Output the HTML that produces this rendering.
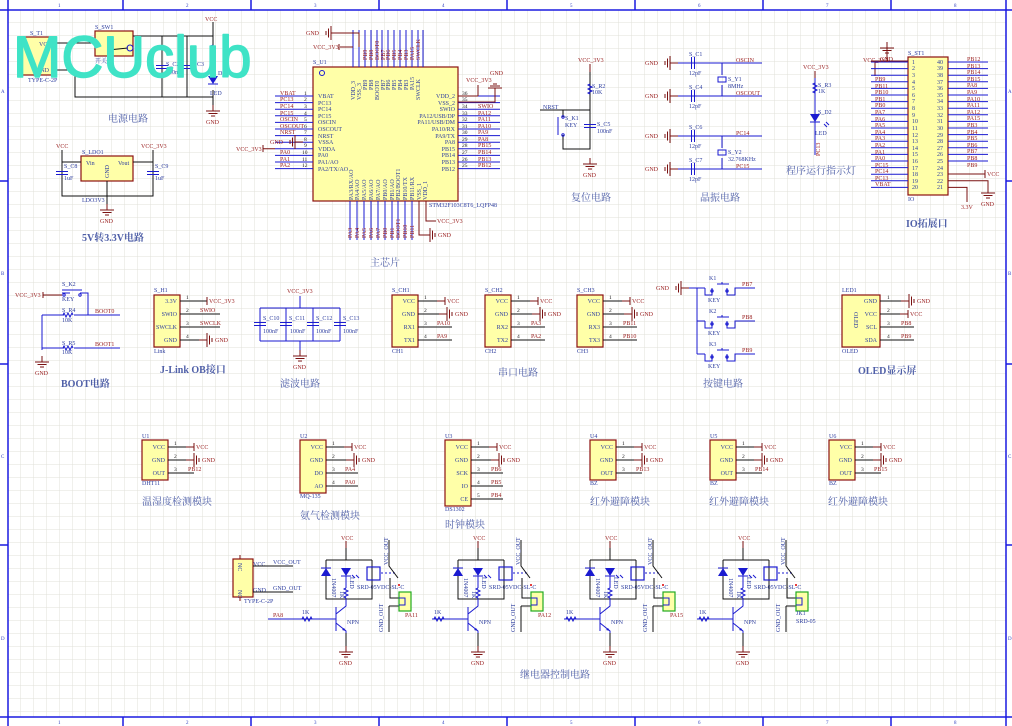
<!DOCTYPE html>
<html><head><meta charset="utf-8"><style>
html,body{margin:0;padding:0;background:#fff;}
svg{display:block;}
text{font-family:"Liberation Serif","Noto Serif CJK SC",serif;}
.w{stroke:#1a1ad0;stroke-width:1;fill:none}
.k{stroke:#111;stroke-width:1;fill:none}
.p{stroke:#7a1010;stroke-width:1;fill:none}
.bx{fill:#ffffa8;stroke:#8b1010;stroke-width:1.2}
.r{fill:#9a2020;font-size:6px}
.bl{fill:#3040a0;font-size:6px}
.t{fill:#5060a8;font-size:10px;font-family:"Liberation Serif","Noto Serif CJK SC",serif}
.pn{fill:#222;font-size:5.5px}
.fr{stroke:#1a1ae0;stroke-width:1.5;fill:none}
.wm{font-family:"Liberation Sans",sans-serif;font-size:58px;fill:#3fe3c6;stroke:#3fe3c6;stroke-width:1.5;stroke-linejoin:round}
</style></head><body>
<svg width="1012" height="726" viewBox="0 0 1012 726" xmlns="http://www.w3.org/2000/svg">
<defs>
<pattern id="g" x="8" y="10" width="13" height="13" patternUnits="userSpaceOnUse">
<path d="M13 0V13M0 13H13" stroke="#e0e0da" stroke-width="1" fill="none"/>
</pattern>
<g id="gnd"><path class="p" d="M0 -6V0M-7 0H7M-4.5 2.5H4.5M-2 5H2"/><text class="r" x="-7" y="13">GND</text></g>
<g id="gndr"><path class="p" d="M-8 0H0M0 -7V7M2.5 -4.5V4.5M5 -2V2"/><text class="r" x="8" y="2">GND</text></g>
<g id="gndl"><path class="p" d="M8 0H0M0 -7V7M-2.5 -4.5V4.5M-5 -2V2"/><text class="r" x="-25" y="2">GND</text></g>
<g id="vccr"><path class="p" d="M-8 0H0M0 -4V4"/><text class="r" x="2" y="2">VCC</text></g>
<g id="cap"><path class="w" d="M-6 -1.5H6M-6 1.5H6"/></g>
<g id="capv"><path class="w" d="M-1.5 -6V6M1.5 -6V6"/></g>
<g id="res"><path class="w" d="M-5 0l1 -2l2 4l2 -4l2 4l2 -4l1 2"/></g>
<g id="resv"><path class="w" d="M0 -5l-2 1l4 2l-4 2l4 2l-4 2l2 1"/></g>
<g id="dio"><path d="M-5 -4H5L0 4Z" fill="#1a1ad0"/><path class="w" d="M-5 4H5"/></g>
<g id="relay">
 <text class="r" x="341" y="540">VCC</text>
 <path class="p" d="M346 541V548"/>
 <path class="k" d="M346 548V560M326 560H372M326 560V599H372V560"/>
 <use href="#dio" transform="translate(326,572) rotate(180)"/>
 <use href="#dio" x="346" y="572"/>
 <path class="w" d="M352 575l3 3M356 575l3 3"/>
 <text class="bl" transform="translate(332,578) rotate(90)" font-size="5">1N4007</text>
 <text class="bl" transform="translate(350,577) rotate(90)" font-size="5">LED</text>
 <use href="#resv" x="346" y="593"/>
 <text class="bl" transform="translate(340,591) rotate(90)" font-size="5">1K</text>
 <path class="w" d="M346 576V588M346 598V606L336 614"/>
 <rect x="367" y="567" width="13" height="13" fill="none" stroke="#1a1ad0" stroke-width="1.2"/>
 <path class="w" d="M381 573H395" stroke-dasharray="2,2"/>
 <path class="k" d="M389 540V566L398 578"/>
 <circle cx="399" cy="585" r="1" fill="#d00"/>
 <text class="bl" transform="translate(388,565) rotate(-90)" font-size="5.5">VCC_OUT</text>
 <text class="bl" x="357" y="589" font-size="5.5">SRD-05VDC-SL-C</text>
 <path class="k" d="M390 578V598H399M389 606V632M389 606H399"/>
 <text class="bl" transform="translate(383,632) rotate(-90)" font-size="5.5">GND_OUT</text>
 <rect x="399" y="592" width="12" height="19" fill="#ffffa8" stroke="#22aa22" stroke-width="1.2"/>
 <path class="w" d="M399 598H405V605H399"/>
 <path class="w" d="M336 607V631" stroke-width="2.2"/>
 <path class="w" d="M336 623L346 631V645"/>
 <path d="M346 631l-4 -1l2 -2z" fill="#1a1ad0"/>
 <text class="bl" x="347" y="624">NPN</text>
 <path class="w" d="M300 619H336"/>
 <use href="#res" x="307" y="619"/>
 <text class="bl" x="302" y="614" font-size="5.5">1K</text>
 <path class="k" d="M346 633V652"/>
 <use href="#gnd" x="346" y="652"/>
</g>
<g id="mod3">
 <rect class="bx" x="0" y="0" width="26" height="40"/>
 <text class="bl" x="23" y="9" text-anchor="end">VCC</text>
 <text class="bl" x="23" y="22" text-anchor="end">GND</text>
 <text class="bl" x="23" y="35" text-anchor="end">OUT</text>
 <path class="k" d="M26 7H52M26 20H52M26 33H52"/>
 <text class="pn" x="32" y="5">1</text><text class="pn" x="32" y="18">2</text><text class="pn" x="32" y="31">3</text>
 <use href="#vccr" x="52" y="7"/>
 <use href="#gndr" x="52" y="20"/>
</g>
</defs>
<rect x="0" y="0" width="1012" height="726" fill="#fff"/>
<rect x="8" y="10" width="998" height="707" fill="url(#g)"/>
<!-- frame -->
<path class="fr" d="M0 10H1012M0 717H1012M8 0V726M1006 0V726"/>
<path class="fr" d="M123 0V10M251 0V10M379 0V10M507 0V10M635 0V10M763 0V10M891 0V10M123 717V726M251 717V726M379 717V726M507 717V726M635 717V726M763 717V726M891 717V726M0 181H8M0 364H8M0 545H8M1006 181H1012M1006 364H1012M1006 545H1012"/>
<g fill="#3040c0" font-size="5">
<text x="58" y="7">1</text><text x="186" y="7">2</text><text x="314" y="7">3</text><text x="442" y="7">4</text><text x="570" y="7">5</text><text x="698" y="7">6</text><text x="826" y="7">7</text><text x="954" y="7">8</text>
<text x="58" y="724">1</text><text x="186" y="724">2</text><text x="314" y="724">3</text><text x="442" y="724">4</text><text x="570" y="724">5</text><text x="698" y="724">6</text><text x="826" y="724">7</text><text x="954" y="724">8</text>
<text x="1" y="93">A</text><text x="1" y="275">B</text><text x="1" y="458">C</text><text x="1" y="640">D</text>
<text x="1008" y="93">A</text><text x="1008" y="275">B</text><text x="1008" y="458">C</text><text x="1008" y="640">D</text>
</g>

<!-- ===== power circuit ===== -->
<rect class="bx" x="22" y="37" width="32" height="38"/>
<text class="bl" x="30" y="35">S_T1</text><text class="bl" x="28" y="82">TYPE-C-2P</text>
<text class="bl" x="39" y="46">VCC</text><text class="bl" x="36" y="72">GND</text>
<rect class="bx" x="95" y="31" width="38" height="25"/>
<text class="bl" x="95" y="29">S_SW1</text><text class="bl" x="95" y="63">开关</text>
<path class="k" d="M54 43H95M54 70H75V97H213M133 36H213M213 22V60M213 90V105M162 36V97M187 36V97M108 50L128 48"/>
<circle cx="130" cy="48" r="3" fill="none" stroke="#1a1ad0"/>
<use href="#cap" x="162" y="67"/><use href="#cap" x="187" y="67"/>
<text class="bl" x="166" y="66">S_C2</text><text class="bl" x="166" y="74">100nF</text>
<text class="bl" x="197" y="66">C3</text>
<text class="r" x="205" y="21">VCC</text>
<use href="#resv" x="213" y="50"/>
<use href="#dio" x="213" y="80"/>
<text class="bl" x="218" y="75">D1</text><text class="bl" x="210" y="95">LED</text>
<use href="#gnd" x="213" y="111"/>
<text class="t" x="108" y="122">电源电路</text>
<!-- LDO -->
<rect class="bx" x="81" y="156" width="52" height="25"/>
<text class="bl" x="82" y="154">S_LDO1</text>
<text class="bl" x="86" y="165">Vin</text><text class="bl" x="118" y="165">Vout</text>
<text class="bl" transform="translate(109,178) rotate(-90)">GND</text>
<text class="r" x="56" y="148">VCC</text><text class="r" x="141" y="148">VCC_3V3</text>
<path class="k" d="M62 150V196H153V150M62 162H81M133 162H153M107 181V206"/>
<use href="#cap" x="62" y="173"/><use href="#cap" x="153" y="173"/>
<text class="bl" x="64" y="168">S_C8</text><text class="bl" x="64" y="180">1uF</text>
<text class="bl" x="155" y="168">S_C9</text><text class="bl" x="155" y="180">1uF</text>
<text class="bl" x="82" y="202">LDO3V3</text>
<use href="#gnd" x="107" y="210"/>
<text class="t" x="82" y="241" font-weight="bold">5V转3.3V电路</text>

<!-- ===== MCU ===== -->
<rect class="bx" x="313" y="67" width="145" height="134"/>
<circle cx="322" cy="73" r="2.5" fill="none" stroke="#1a1ad0"/>
<text class="bl" x="313" y="64">S_U1</text>
<text class="bl" x="429" y="207">STM32F103C8T6_LQFP48</text>
<g class="bl">
<text x="318" y="98">VBAT</text><text x="318" y="105">PC13</text><text x="318" y="111">PC14</text><text x="318" y="118">PC15</text><text x="318" y="124">OSCIN</text><text x="318" y="131">OSCOUT</text><text x="318" y="138">NRST</text><text x="318" y="144">VSSA</text><text x="318" y="151">VDDA</text><text x="318" y="157">PA0</text><text x="318" y="164">PA1/AO</text><text x="318" y="171">PA2/TX/AO</text>
</g>
<g class="bl" text-anchor="end">
<text x="455" y="98">VDD_2</text><text x="455" y="105">VSS_2</text><text x="455" y="111">SWIO</text><text x="455" y="118">PA12/USB/DP</text><text x="455" y="124">PA11/USB/DM</text><text x="455" y="131">PA10/RX</text><text x="455" y="138">PA9/TX</text><text x="455" y="144">PA8</text><text x="455" y="151">PB15</text><text x="455" y="157">PB14</text><text x="455" y="164">PB13</text><text x="455" y="171">PB12</text>
</g>
<path class="w" d="M275 96H313M275 102.6H313M275 109.2H313M275 115.8H313M275 122.4H313M275 129H313M275 135.6H313M275 142.2H313M275 148.8H313M275 155.4H313M275 162H313M275 168.6H313"/>
<path class="w" d="M458 96H500M458 102.6H500M458 109.2H500M458 115.8H500M458 122.4H500M458 129H500M458 135.6H500M458 142.2H500M458 148.8H500M458 155.4H500M458 162H500M458 168.6H500"/>
<g class="r">
<text x="280" y="95">VBAT</text><text x="280" y="101">PC13</text><text x="280" y="108">PC14</text><text x="280" y="115">PC15</text><text x="280" y="121">OSCIN</text><text x="280" y="128">OSCOUT</text><text x="280" y="134">NRST</text><text x="280" y="154">PA0</text><text x="280" y="161">PA1</text><text x="280" y="167">PA2</text>
<text x="478" y="108">SWIO</text><text x="478" y="115">PA12</text><text x="478" y="121">PA11</text><text x="478" y="128">PA10</text><text x="478" y="134">PA9</text><text x="478" y="141">PA8</text><text x="478" y="147">PB15</text><text x="478" y="154">PB14</text><text x="478" y="161">PB13</text><text x="478" y="167">PB12</text>
</g>
<g class="pn" font-size="5">
<text x="304" y="95">1</text><text x="304" y="101">2</text><text x="304" y="108">3</text><text x="304" y="115">4</text><text x="304" y="121">5</text><text x="304" y="128">6</text><text x="304" y="134">7</text><text x="304" y="141">8</text><text x="304" y="147">9</text><text x="302" y="154">10</text><text x="302" y="161">11</text><text x="302" y="167">12</text>
<text x="462" y="95">36</text><text x="462" y="101">35</text><text x="462" y="108">34</text><text x="462" y="115">33</text><text x="462" y="121">32</text><text x="462" y="128">31</text><text x="462" y="134">30</text><text x="462" y="141">29</text><text x="462" y="147">28</text><text x="462" y="154">27</text><text x="462" y="161">26</text><text x="462" y="167">25</text>
</g>
<use href="#gndl" x="295" y="142"/>
<text class="r" x="236" y="151">VCC_3V3</text><path class="p" d="M263 148.8H275M263 145V152"/>
<text class="r" x="466" y="82">VCC_3V3</text><path class="p" d="M478 85V96M458 96H478"/>
<path class="p" d="M458 102H495V88"/><path class="p" d="M488 88H502M490 86H500M493 84H497"/>
<text class="r" x="490" y="75">GND</text>
<!-- top pins -->
<path class="w" d="M353 30V67M359 30V67M365 30V67M371 30V67M377 30V67M382 30V67M388 30V67M394 30V67M400 30V67M406 30V67M412 30V67M418 30V67M423 30V67"/>
<path class="p" d="M331 33H359V47M353 47H340"/>
<use href="#gndl" x="331" y="33"/>
<text class="r" x="313" y="49">VCC_3V3</text><path class="p" d="M339 44V50"/>
<g class="r" font-size="5.5">
<text transform="translate(367,60) rotate(-90)">PB9</text><text transform="translate(373,60) rotate(-90)">PB8</text><text transform="translate(379,60) rotate(-90)">BOOT0</text><text transform="translate(385,60) rotate(-90)">PB7</text><text transform="translate(390,60) rotate(-90)">PB6</text><text transform="translate(396,60) rotate(-90)">PB5</text><text transform="translate(402,60) rotate(-90)">PB4</text><text transform="translate(408,60) rotate(-90)">PB3</text><text transform="translate(414,60) rotate(-90)">PA15</text><text transform="translate(420,60) rotate(-90)">SWCLK</text>
</g>
<g class="bl" font-size="5.5">
<text transform="translate(355,100) rotate(-90)">VDD_3</text><text transform="translate(361,100) rotate(-90)">VSS_3</text><text transform="translate(367,90) rotate(-90)">PB9</text><text transform="translate(373,90) rotate(-90)">PB8</text><text transform="translate(379,100) rotate(-90)">BOOT0</text><text transform="translate(385,90) rotate(-90)">PB7</text><text transform="translate(390,90) rotate(-90)">PB6</text><text transform="translate(396,90) rotate(-90)">PB5</text><text transform="translate(402,90) rotate(-90)">PB4</text><text transform="translate(408,90) rotate(-90)">PB3</text><text transform="translate(414,90) rotate(-90)">PA15</text><text transform="translate(420,100) rotate(-90)">SWCLK</text>
<text transform="translate(353,200) rotate(-90)">PA3/RX/AO</text><text transform="translate(359,200) rotate(-90)">PA4/AO</text><text transform="translate(366,200) rotate(-90)">PA5/AO</text><text transform="translate(373,200) rotate(-90)">PA6/AO</text><text transform="translate(380,200) rotate(-90)">PA7/AO</text><text transform="translate(387,200) rotate(-90)">PB0/AO</text><text transform="translate(394,200) rotate(-90)">PB1/AO</text><text transform="translate(400,200) rotate(-90)">PB2/BOOT1</text><text transform="translate(407,200) rotate(-90)">PB10/TX</text><text transform="translate(414,200) rotate(-90)">PB11/RX</text><text transform="translate(421,200) rotate(-90)">VSS_1</text><text transform="translate(427,200) rotate(-90)">VDD_1</text>
</g>
<path class="w" d="M350 201V240M357 201V240M364 201V240M371 201V240M378 201V240M385 201V240M392 201V240M398 201V240M405 201V240M412 201V240"/>
<path class="p" d="M419 201V235H430M426 201V221H436"/>
<text class="r" x="437" y="223">VCC_3V3</text>
<use href="#gndr" x="430" y="235"/>
<g class="r" font-size="5.5">
<text transform="translate(352,238) rotate(-90)">PA3</text><text transform="translate(359,238) rotate(-90)">PA4</text><text transform="translate(366,238) rotate(-90)">PA5</text><text transform="translate(373,238) rotate(-90)">PA6</text><text transform="translate(380,238) rotate(-90)">PA7</text><text transform="translate(387,238) rotate(-90)">PB0</text><text transform="translate(394,238) rotate(-90)">PB1</text><text transform="translate(400,238) rotate(-90)">BOOT1</text><text transform="translate(407,238) rotate(-90)">PB10</text><text transform="translate(414,238) rotate(-90)">PB11</text>
</g>
<text class="t" x="370" y="266">主芯片</text>

<!-- ===== reset ===== -->
<text class="r" x="578" y="62">VCC_3V3</text>
<path class="p" d="M590 64V72"/>
<path class="k" d="M590 72V149H563V135M590 72V82M540 110H590M563 110V117"/>
<use href="#resv" x="590" y="89"/>
<text class="bl" x="592" y="88">S_R2</text><text class="bl" x="592" y="94">10K</text>
<path class="w" d="M558 117V135" stroke-width="2"/>
<circle cx="563" cy="117" r="1.2" fill="none" stroke="#1a1ad0"/><circle cx="563" cy="135" r="1.2" fill="none" stroke="#1a1ad0"/>
<text class="bl" x="565" y="120">S_K1</text><text class="bl" x="565" y="127">KEY</text>
<use href="#cap" x="590" y="126"/>
<text class="bl" x="597" y="126">S_C5</text><text class="bl" x="597" y="133">100nF</text>
<text class="bl" x="543" y="109">NRST</text>
<use href="#gnd" x="590" y="164"/>
<text class="t" x="571" y="201">复位电路</text>

<!-- ===== crystal ===== -->
<g>
<use href="#gndl" x="670" y="63"/><use href="#gndl" x="670" y="96"/><use href="#gndl" x="670" y="136"/><use href="#gndl" x="670" y="169"/>
<path class="w" d="M678 63H762M678 96H762M678 136H762M678 169H762M722 63V75M722 85V96M722 136V148M722 158V169"/>
<use href="#capv" x="693" y="63"/><use href="#capv" x="693" y="96"/><use href="#capv" x="693" y="136"/><use href="#capv" x="693" y="169"/>
<rect x="718" y="77" width="8" height="5" fill="none" stroke="#1a1ad0"/><rect x="718" y="150" width="8" height="5" fill="none" stroke="#1a1ad0"/>
<text class="bl" x="689" y="56">S_C1</text><text class="bl" x="689" y="89">S_C4</text><text class="bl" x="689" y="129">S_C6</text><text class="bl" x="689" y="162">S_C7</text>
<text class="bl" x="689" y="75">12pF</text><text class="bl" x="689" y="108">12pF</text><text class="bl" x="689" y="148">12pF</text><text class="bl" x="689" y="181">12pF</text>
<text class="bl" x="728" y="81">S_Y1</text><text class="bl" x="728" y="88">8MHz</text>
<text class="bl" x="728" y="154">S_Y2</text><text class="bl" x="728" y="161">32.768KHz</text>
<text class="r" x="736" y="62">OSCIN</text><text class="r" x="736" y="95">OSCOUT</text><text class="r" x="736" y="135">PC14</text><text class="r" x="736" y="168">PC15</text>
</g>
<text class="t" x="700" y="201">晶振电路</text>

<!-- ===== LED indicator ===== -->
<text class="r" x="803" y="69">VCC_3V3</text>
<path class="p" d="M815 71V78"/>
<path class="w" d="M815 78V155"/>
<use href="#resv" x="815" y="88"/>
<text class="bl" x="818" y="87">S_R3</text><text class="bl" x="818" y="93">1K</text>
<use href="#dio" x="815" y="118"/>
<text class="bl" x="818" y="114">S_D2</text><text class="bl" x="815" y="135">LED</text>
<path class="w" d="M824 124l3 3M826 122l3 3"/>
<text class="r" transform="translate(820,156) rotate(-90)">PC13</text>
<text class="t" x="786" y="174">程序运行指示灯</text>

<!-- ===== IO header ===== -->
<rect class="bx" x="908" y="57" width="40" height="138"/>
<text class="bl" x="908" y="55">S_ST1</text><text class="bl" x="908" y="201">IO</text>
<use href="#gnd" x="887" y="48"/>
<path class="p" d="M887 48V61H908M875 61V76M871 61H890"/>
<path class="w" d="M871 62H908M871 68.6H908M871 75.2H908M871 81.8H908M871 88.4H908M871 95H908M871 101.6H908M871 108.2H908M871 114.8H908M871 121.4H908M871 128H908M871 134.6H908M871 141.2H908M871 147.8H908M871 154.4H908M871 161H908M871 167.6H908M871 174.2H908M871 180.8H908M871 187.4H908"/>
<path class="w" d="M948 62H988M948 68.6H988M948 75.2H988M948 81.8H988M948 88.4H988M948 95H988M948 101.6H988M948 108.2H988M948 114.8H988M948 121.4H988M948 128H988M948 134.6H988M948 141.2H988M948 147.8H988M948 154.4H988M948 161H988"/>
<path class="p" d="M948 174H983M948 180.8H988V188M948 187.4H967V202"/>
<use href="#vccr" x="985" y="174"/>
<use href="#gnd" x="988" y="193"/>
<text class="r" x="961" y="209">3.3V</text>
<g class="bl" font-size="5.2">
<text x="912" y="64">1</text><text x="912" y="70">2</text><text x="912" y="77">3</text><text x="912" y="84">4</text><text x="912" y="90">5</text><text x="912" y="97">6</text><text x="912" y="103">7</text><text x="912" y="110">8</text><text x="912" y="117">9</text><text x="912" y="123">10</text><text x="912" y="130">11</text><text x="912" y="137">12</text><text x="912" y="143">13</text><text x="912" y="150">14</text><text x="912" y="156">15</text><text x="912" y="163">16</text><text x="912" y="170">17</text><text x="912" y="176">18</text><text x="912" y="183">19</text><text x="912" y="189">20</text>
<text x="937" y="64">40</text><text x="937" y="70">39</text><text x="937" y="77">38</text><text x="937" y="84">37</text><text x="937" y="90">36</text><text x="937" y="97">35</text><text x="937" y="103">34</text><text x="937" y="110">33</text><text x="937" y="117">32</text><text x="937" y="123">31</text><text x="937" y="130">30</text><text x="937" y="137">29</text><text x="937" y="143">28</text><text x="937" y="150">27</text><text x="937" y="156">26</text><text x="937" y="163">25</text><text x="937" y="170">24</text><text x="937" y="176">23</text><text x="937" y="183">22</text><text x="937" y="189">21</text>
</g>
<g class="r" font-size="5.5">
<text x="863" y="62">VCC_3V3</text>
<text x="875" y="81">PB9</text><text x="875" y="88">PB11</text><text x="875" y="94">PB10</text><text x="875" y="101">PB1</text><text x="875" y="107">PB0</text><text x="875" y="114">PA7</text><text x="875" y="121">PA6</text><text x="875" y="127">PA5</text><text x="875" y="134">PA4</text><text x="875" y="140">PA3</text><text x="875" y="147">PA2</text><text x="875" y="154">PA1</text><text x="875" y="160">PA0</text><text x="875" y="167">PC15</text><text x="875" y="173">PC14</text><text x="875" y="180">PC13</text><text x="875" y="186">VBAT</text>
<text x="967" y="61">PB12</text><text x="967" y="68">PB13</text><text x="967" y="74">PB14</text><text x="967" y="81">PB15</text><text x="967" y="87">PA8</text><text x="967" y="94">PA9</text><text x="967" y="101">PA10</text><text x="967" y="107">PA11</text><text x="967" y="114">PA12</text><text x="967" y="120">PA15</text><text x="967" y="127">PB3</text><text x="967" y="134">PB4</text><text x="967" y="140">PB5</text><text x="967" y="147">PB6</text><text x="967" y="153">PB7</text><text x="967" y="160">PB8</text><text x="967" y="167">PB9</text>
</g>
<text class="t" x="906" y="227" font-weight="bold">IO拓展口</text>

<!-- ===== BOOT ===== -->
<text class="r" x="15" y="297">VCC_3V3</text>
<path class="p" d="M43 292V298M43 295H62"/>
<path class="w" d="M62 293H70M62 290H82M80 293H88V315H120M42 315H64M42 315V350M42 348H64M74 348H120M74 315H120"/>
<circle cx="64" cy="295" r="1.2" fill="none" stroke="#1a1ad0"/><circle cx="80" cy="295" r="1.2" fill="none" stroke="#1a1ad0"/>
<use href="#res" x="68" y="315"/><use href="#res" x="68" y="348"/>
<text class="bl" x="62" y="286">S_K2</text><text class="bl" x="62" y="301">KEY</text>
<text class="bl" x="62" y="312">S_R4</text><text class="bl" x="62" y="322">10K</text>
<text class="bl" x="62" y="345">S_R5</text><text class="bl" x="62" y="354">10K</text>
<text class="r" x="95" y="313">BOOT0</text><text class="r" x="95" y="346">BOOT1</text>
<use href="#gnd" x="42" y="362"/>
<text class="t" x="61" y="387" font-weight="bold">BOOT电路</text>

<!-- ===== J-Link ===== -->
<rect class="bx" x="154" y="295" width="26" height="52"/>
<text class="bl" x="154" y="292">S_H1</text><text class="bl" x="154" y="353">Link</text>
<g class="bl" text-anchor="end"><text x="177" y="303">3.3V</text><text x="177" y="316">SWIO</text><text x="177" y="329">SWCLK</text><text x="177" y="342">GND</text></g>
<path class="k" d="M180 301H207M180 314H220M180 327H220M180 340H207"/>
<text class="pn" x="186" y="299">1</text><text class="pn" x="186" y="312">2</text><text class="pn" x="186" y="325">3</text><text class="pn" x="186" y="338">4</text>
<path class="p" d="M207 297V305"/><text class="r" x="209" y="303">VCC_3V3</text>
<text class="r" x="200" y="312">SWIO</text><text class="r" x="200" y="325">SWCLK</text>
<use href="#gndr" x="207" y="340"/>
<text class="t" x="160" y="373" font-weight="bold">J-Link OB接口</text>

<!-- ===== filter ===== -->
<text class="r" x="287" y="293">VCC_3V3</text>
<path class="w" d="M300 296V308M260 308H340M260 341H340M260 308V341M286 308V341M313 308V341M340 308V341M300 341V350"/>
<use href="#cap" x="260" y="324"/><use href="#cap" x="286" y="324"/><use href="#cap" x="313" y="324"/><use href="#cap" x="340" y="324"/>
<g class="bl"><text x="263" y="320">S_C10</text><text x="289" y="320">S_C11</text><text x="316" y="320">S_C12</text><text x="343" y="320">S_C13</text>
<text x="263" y="333">100nF</text><text x="290" y="333">100nF</text><text x="316" y="333">100nF</text><text x="343" y="333">100nF</text></g>
<use href="#gnd" x="300" y="356"/>
<text class="t" x="280" y="387">滤波电路</text>

<!-- ===== serial ===== -->
<g id="ser">
<rect class="bx" x="392" y="295" width="26" height="52"/>
<path class="k" d="M418 301H445M418 314H445M418 327H452M418 340H452"/>
<text class="pn" x="424" y="299">1</text><text class="pn" x="424" y="312">2</text><text class="pn" x="424" y="325">3</text><text class="pn" x="424" y="338">4</text>
<use href="#vccr" x="445" y="301"/><use href="#gndr" x="447" y="314"/>
</g>
<use href="#ser" x="93"/><use href="#ser" x="185"/>
<g class="bl" text-anchor="end">
<text x="415" y="303">VCC</text><text x="415" y="316">GND</text><text x="415" y="329">RX1</text><text x="415" y="342">TX1</text>
<text x="508" y="303">VCC</text><text x="508" y="316">GND</text><text x="508" y="329">RX2</text><text x="508" y="342">TX2</text>
<text x="600" y="303">VCC</text><text x="600" y="316">GND</text><text x="600" y="329">RX3</text><text x="600" y="342">TX3</text>
</g>
<text class="bl" x="392" y="292">S_CH1</text><text class="bl" x="392" y="353">CH1</text>
<text class="bl" x="485" y="292">S_CH2</text><text class="bl" x="485" y="353">CH2</text>
<text class="bl" x="577" y="292">S_CH3</text><text class="bl" x="577" y="353">CH3</text>
<text class="r" x="437" y="325">PA10</text><text class="r" x="437" y="338">PA9</text>
<text class="r" x="531" y="325">PA3</text><text class="r" x="531" y="338">PA2</text>
<text class="r" x="623" y="325">PB11</text><text class="r" x="623" y="338">PB10</text>
<text class="t" x="498" y="376">串口电路</text>

<!-- ===== keys ===== -->
<use href="#gndl" x="681" y="288"/>
<path class="w" d="M689 288H705M697 288V354M697 321H705M697 354H705"/>
<g id="key">
<path class="w" d="M705 288V295H712V288M727 288V295H735V288H755M717 284H729M722 284V282"/>
<circle cx="712" cy="291" r="1.2" fill="none" stroke="#1a1ad0"/><circle cx="727" cy="291" r="1.2" fill="none" stroke="#1a1ad0"/>
<text class="bl" x="708" y="302">KEY</text>
</g>
<use href="#key" y="33"/><use href="#key" y="66"/>
<text class="bl" x="709" y="280">K1</text><text class="bl" x="709" y="313">K2</text><text class="bl" x="709" y="346">K3</text>
<text class="r" x="742" y="286">PB7</text><text class="r" x="742" y="319">PB8</text><text class="r" x="742" y="352">PB9</text>
<text class="t" x="703" y="387">按键电路</text>

<!-- ===== OLED ===== -->
<rect class="bx" x="842" y="295" width="38" height="52"/>
<text class="bl" x="842" y="292">LED1</text><text class="bl" x="842" y="353">OLED</text>
<text class="bl" transform="translate(854,312) rotate(90)">OLED</text>
<g class="bl" text-anchor="end"><text x="877" y="303">GND</text><text x="877" y="316">VCC</text><text x="877" y="329">SCL</text><text x="877" y="342">SDA</text></g>
<path class="k" d="M880 301H908M880 314H908M880 327H914M880 340H914"/>
<text class="pn" x="887" y="299">1</text><text class="pn" x="887" y="312">2</text><text class="pn" x="887" y="325">3</text><text class="pn" x="887" y="338">4</text>
<use href="#gndr" x="909" y="301"/><use href="#vccr" x="908" y="314"/>
<text class="r" x="901" y="325">PB8</text><text class="r" x="901" y="338">PB9</text>
<text class="t" x="858" y="374" font-weight="bold">OLED显示屏</text>

<!-- ===== modules row ===== -->
<use href="#mod3" x="142" y="440"/>
<text class="bl" x="142" y="438">U1</text><text class="bl" x="142" y="485">DHT11</text><text class="r" x="188" y="471">PB12</text>
<text class="t" x="142" y="505">温湿度检测模块</text>

<rect class="bx" x="300" y="440" width="26" height="53"/>
<text class="bl" x="300" y="438">U2</text><text class="bl" x="300" y="498">MQ-135</text>
<g class="bl" text-anchor="end"><text x="323" y="449">VCC</text><text x="323" y="462">GND</text><text x="323" y="475">DO</text><text x="323" y="488">AO</text></g>
<path class="k" d="M326 447H352M326 460H352M326 473H358M326 486H358"/>
<text class="pn" x="332" y="445">1</text><text class="pn" x="332" y="458">2</text><text class="pn" x="332" y="471">3</text><text class="pn" x="332" y="484">4</text>
<use href="#vccr" x="352" y="447"/><use href="#gndr" x="354" y="460"/>
<text class="r" x="345" y="471">PA4</text><text class="r" x="345" y="484">PA0</text>
<text class="t" x="300" y="519">氨气检测模块</text>

<rect class="bx" x="445" y="440" width="26" height="66"/>
<text class="bl" x="445" y="438">U3</text><text class="bl" x="445" y="511">DS1302</text>
<g class="bl" text-anchor="end"><text x="468" y="449">VCC</text><text x="468" y="462">GND</text><text x="468" y="475">SCK</text><text x="468" y="488">IO</text><text x="468" y="501">CE</text></g>
<path class="k" d="M471 447H497M471 460H497M471 473H503M471 486H503M471 499H503"/>
<text class="pn" x="477" y="445">1</text><text class="pn" x="477" y="458">2</text><text class="pn" x="477" y="471">3</text><text class="pn" x="477" y="484">4</text><text class="pn" x="477" y="497">5</text>
<use href="#vccr" x="497" y="447"/><use href="#gndr" x="499" y="460"/>
<text class="r" x="491" y="471">PB6</text><text class="r" x="491" y="484">PB5</text><text class="r" x="491" y="497">PB4</text>
<text class="t" x="445" y="528">时钟模块</text>

<use href="#mod3" x="590" y="440"/>
<text class="bl" x="590" y="438">U4</text><text class="bl" x="590" y="485">BZ</text><text class="r" x="636" y="471">PB13</text>
<text class="t" x="590" y="505">红外避障模块</text>
<use href="#mod3" x="710" y="440"/>
<text class="bl" x="710" y="438">U5</text><text class="bl" x="710" y="485">BZ</text><text class="r" x="755" y="471">PB14</text>
<text class="t" x="709" y="505">红外避障模块</text>
<use href="#mod3" x="829" y="440"/>
<text class="bl" x="829" y="438">U6</text><text class="bl" x="829" y="485">BZ</text><text class="r" x="874" y="471">PB15</text>
<text class="t" x="828" y="505">红外避障模块</text>

<!-- ===== relays ===== -->
<rect class="bx" x="233" y="559" width="20" height="38"/>
<path class="p" d="M240 555V559M240 597V601"/>
<text class="bl" transform="translate(238,563) rotate(90)" font-size="5">NC</text>
<text class="bl" transform="translate(238,590) rotate(90)" font-size="5">NC</text>
<text class="bl" x="253" y="566">VCC</text><text class="bl" x="253" y="592">GND</text>
<path class="k" d="M253 566H293M253 592H293"/>
<text class="bl" x="273" y="564">VCC_OUT</text><text class="bl" x="273" y="590">GND_OUT</text>
<text class="bl" x="244" y="603">TYPE-C-2P</text>
<use href="#relay"/>
<use href="#relay" x="132"/>
<use href="#relay" x="264"/>
<use href="#relay" x="397"/>
<path class="w" d="M268 619H300"/>
<text class="r" x="273" y="617">PA8</text>
<text class="r" x="405" y="617">PA11</text>
<text class="r" x="538" y="617">PA12</text>
<text class="r" x="670" y="617">PA15</text>
<text class="bl" x="796" y="615">JK1</text><text class="bl" x="796" y="623">SRD-05</text>
<text class="t" x="520" y="678">继电器控制电路</text>

<!-- watermark -->
<text class="wm" x="13" y="77">MCUclub</text>
</svg>
</body></html>
